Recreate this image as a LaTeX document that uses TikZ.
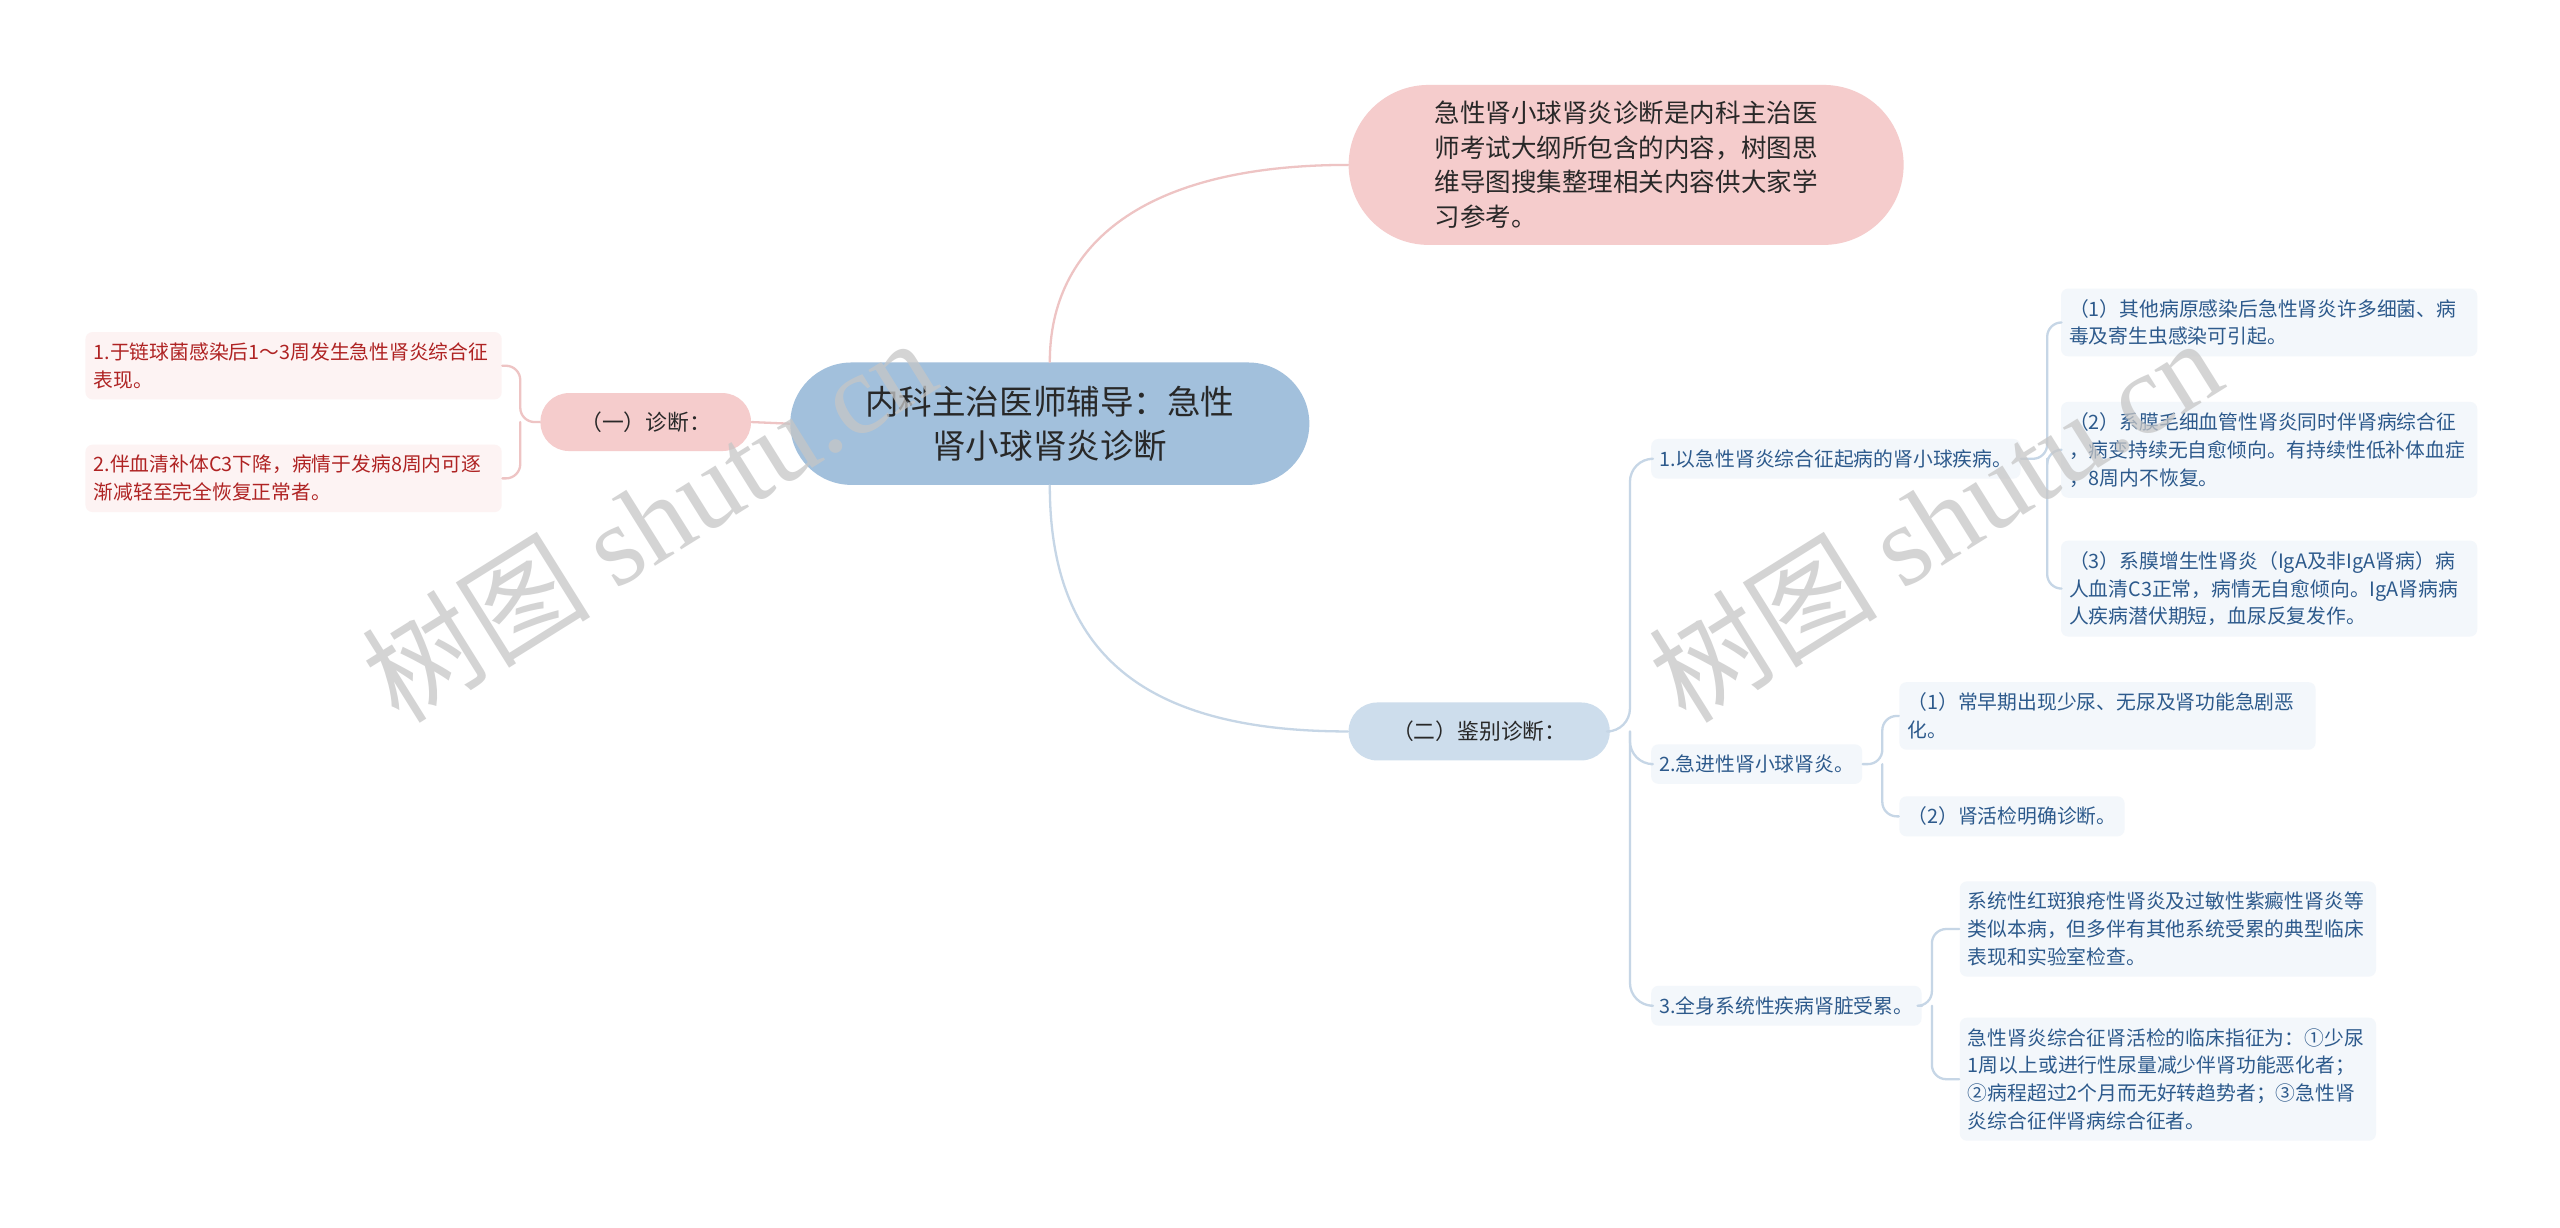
\documentclass[tikz,border=0pt]{standalone}
\usepackage{fontspec}
\setmainfont{Noto Sans CJK SC}
\newfontfamily\wmfont{Liberation Serif}
\definecolor{rootblue}{RGB}{162,192,220}
\definecolor{diffblue}{RGB}{205,221,236}
\definecolor{intropink}{RGB}{245,204,204}
\definecolor{leafpink}{RGB}{253,243,243}
\definecolor{leafred}{RGB}{175,35,35}
\definecolor{leafblue}{RGB}{243,247,251}
\definecolor{textblue}{RGB}{45,90,140}
\definecolor{linepink}{RGB}{238,196,196}
\definecolor{lineblue}{RGB}{198,214,230}
\definecolor{textdark}{RGB}{40,40,40}
\begin{document}
\begin{tikzpicture}[x=0.02cm, y=-0.02cm, line join=round, line cap=round,
    rootbox/.style={fill=rootblue, text=textdark, rounded corners=0.75cm, minimum width=6.36cm, minimum height=1.5cm, align=center, font=\fontsize{11.7}{15.4}\selectfont},
    introbox/.style={fill=intropink, text=textdark, rounded corners=0.98cm, minimum width=6.8cm, minimum height=1.96cm, align=left, font=\fontsize{8.9}{12}\selectfont},
    midbox/.style={text=textdark, rounded corners=0.35cm, minimum height=0.71cm, font=\fontsize{7.6}{9}\selectfont},
    leafl/.style={fill=leafpink, text=leafred, rounded corners=2.5pt, inner xsep=0.1cm, inner ysep=0.13cm, align=left, font=\fontsize{6.9}{9.7}\selectfont},
    leafr/.style={leafl, fill=leafblue, text=textblue},
    wide/.style={text width=4.9cm},
    pinkline/.style={draw=linepink, line width=0.8pt},
    blueline/.style={draw=lineblue, line width=0.8pt},
    wmark/.style={text=gray!45, opacity=0.75, font=\fontsize{40}{40}\selectfont}]
\fill[white] (0,0) rectangle (1568,752);
% main nodes
\node[rootbox] (root) at (643,259.5) {内科主治医师辅导：急性\\肾小球肾炎诊断};
\node[introbox] (intro) at (996,101) {急性肾小球肾炎诊断是内科主治医\\师考试大纲所包含的内容，树图思\\维导图搜集整理相关内容供大家学\\习参考。};
\node[midbox, fill=intropink, minimum width=2.58cm] (diag) at (395.5,258.5) {（一）诊断：};
\node[midbox, fill=diffblue, minimum width=3.2cm] (diff) at (906,448) {（二）鉴别诊断：};
% left leaves
\node[leafl, wide, anchor=west] (l1) at (52,224) {1.于链球菌感染后1～3周发生急性肾炎综合征\\表现。};
\node[leafl, wide, anchor=west] (l2) at (52,293) {2.伴血清补体C3下降，病情于发病8周内可逐\\渐减轻至完全恢复正常者。};
% right side
\node[leafr, anchor=west] (b1) at (1011,281) {1.以急性肾炎综合征起病的肾小球疾病。};
\node[leafr, anchor=west] (b2) at (1011,468) {2.急进性肾小球肾炎。};
\node[leafr, anchor=west] (b3) at (1011,616) {3.全身系统性疾病肾脏受累。};
\node[leafr, wide, anchor=west] (g1) at (1262,197.5) {（1）其他病原感染后急性肾炎许多细菌、病\\毒及寄生虫感染可引起。};
\node[leafr, wide, anchor=west] (g2) at (1262,275.5) {（2）系膜毛细血管性肾炎同时伴肾病综合征\\，病变持续无自愈倾向。有持续性低补体血症\\，8周内不恢复。};
\node[leafr, wide, anchor=west] (g3) at (1262,360.5) {（3）系膜增生性肾炎（IgA及非IgA肾病）病\\人血清C3正常，病情无自愈倾向。IgA肾病病\\人疾病潜伏期短，血尿反复发作。};
\node[leafr, wide, anchor=west] (h1) at (1163,438.5) {（1）常早期出现少尿、无尿及肾功能急剧恶\\化。};
\node[leafr, anchor=west] (h2) at (1163,500) {（2）肾活检明确诊断。};
\node[leafr, wide, anchor=west] (k1) at (1200,569) {系统性红斑狼疮性肾炎及过敏性紫癜性肾炎等\\类似本病，但多伴有其他系统受累的典型临床\\表现和实验室检查。};
\node[leafr, wide, anchor=west] (k2) at (1200,661) {急性肾炎综合征肾活检的临床指征为：①少尿\\1周以上或进行性尿量减少伴肾功能恶化者；\\②病程超过2个月而无好转趋势者；③急性肾\\炎综合征伴肾病综合征者。};
% connectors
\draw[pinkline] (root.north) .. controls (643,150) and (700,101) .. (intro.west);
\draw[blueline] (root.south) .. controls (643,400) and (700,448) .. (diff.west);
\draw[pinkline] (root.west) -- (diag.east);
\draw[pinkline, rounded corners=5pt] (diag.west) -- ++(-12,0) coordinate (dj) |- (l1.east);
\draw[pinkline, rounded corners=5pt] (dj) |- (l2.east);
\draw[blueline, rounded corners=8pt] (diff.east) -- ++(12,0) coordinate (fj) |- (b1.west);
\draw[blueline, rounded corners=8pt] (fj) |- (b2.west);
\draw[blueline, rounded corners=8pt] (fj) |- (b3.west);
\draw[blueline, rounded corners=5pt] (b1.east) -- ++(16,0) coordinate (gj) |- (g1.west);
\draw[blueline, rounded corners=5pt] (gj) |- (g2.west);
\draw[blueline, rounded corners=5pt] (gj) |- (g3.west);
\draw[blueline, rounded corners=5pt] (b2.east) -- ++(12,0) coordinate (hj) |- (h1.west);
\draw[blueline, rounded corners=5pt] (hj) |- (h2.west);
\draw[blueline, rounded corners=5pt] (b3.east) -- ++(6,0) coordinate (kj) |- (k1.west);
\draw[blueline, rounded corners=5pt] (kj) |- (k2.west);
% watermarks
\node[wmark, rotate=32] (wm1) at (397,318) {树图 {\wmfont shutu.cn}};
\node[wmark, rotate=32] (wm2) at (1185,318) {树图 {\wmfont shutu.cn}};
\end{tikzpicture}
\end{document}
